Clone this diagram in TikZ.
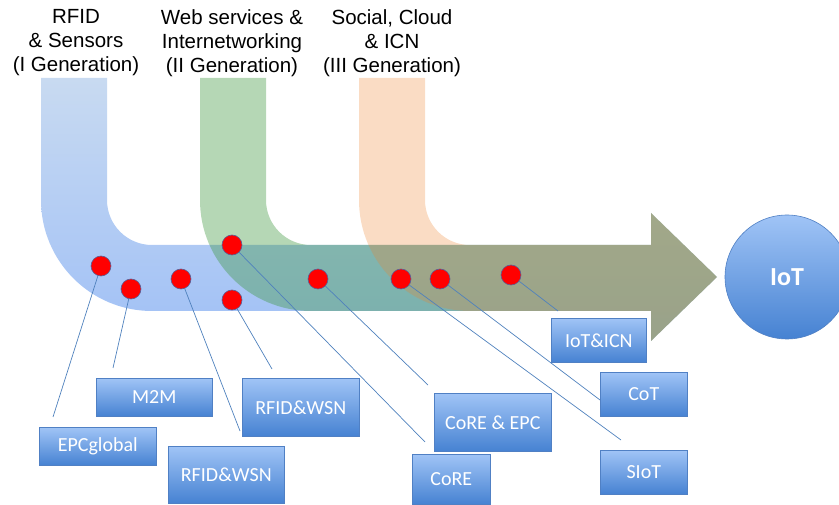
\documentclass[tikz,border=0pt]{standalone}
\usepackage{fontspec}
\setmainfont{Liberation Sans}
\newfontfamily\calibri{Carlito}
\usetikzlibrary{calc}
\definecolor{bandtop}{RGB}{200,218,241}
\definecolor{bandbot}{RGB}{160,192,246}
\definecolor{bandgreen}{RGB}{60,150,60}
\definecolor{bandorange}{RGB}{237,130,44}
\definecolor{boxtop}{RGB}{160,196,246}
\definecolor{boxbot}{RGB}{70,130,210}
\definecolor{boxedge}{RGB}{80,128,196}
\definecolor{linkblue}{RGB}{79,129,189}
\definecolor{dotedge}{RGB}{90,95,150}
\def\genband[#1](#2){\path[#1] (#2,78) -- (#2,200) arc (180:270:111pt) -- (651,311) -- (651,341) -- (717,277) -- (651,213) -- (651,245) -- ({#2+111},245) arc (270:180:45pt) -- ({#2+66},78) -- cycle;}
\tikzset{
	genlabel/.style={align=center, anchor=north, inner sep=0pt, font=\fontsize{20.5}{24}\selectfont},
	reddot/.style={circle, fill=red, draw=dotedge, line width=0.6pt, minimum size=20pt, inner sep=0pt},
	tagbox/.style={rectangle, draw=boxedge, line width=0.6pt, top color=boxtop, bottom color=boxbot, text=white, inner sep=0pt, anchor=north west, font=\calibri\fontsize{20}{24}\selectfont},
	link/.style={draw=linkblue, line width=0.7pt}
}

\begin{document}
\begin{tikzpicture}[x=1pt, y=-1pt]
			%%%%% START %%%%%
			\useasboundingbox (0,0) rectangle (839,505);
			
			\node[genlabel] (gen1) at (76, 9.5) {RFID\\\& Sensors\\(I Generation)};
			\node[genlabel] (gen2) at (232, 9.5) {Web services \&\\Internetworking\\(II Generation)};
			\node[genlabel] (gen3) at (392, 9.5) {Social, Cloud\\\& ICN\\(III Generation)};
			
			\genband[top color=bandtop, bottom color=bandbot](41)
			\genband[fill=bandgreen, fill opacity=0.38](200)
			\genband[fill=bandorange, fill opacity=0.28](359)
			
			\coordinate (epc-end) at (53, 417);
			\coordinate (m2m-end) at (113, 368);
			\coordinate (rfidlow-end) at (240, 431);
			\coordinate (rfidup-end) at (272, 369);
			\coordinate (core-end) at (425, 442);
			\coordinate (coreepc-end) at (428, 385);
			\coordinate (siot-end) at (621, 440);
			\coordinate (cot-end) at (600, 400);
			\coordinate (iocn-end) at (558, 311);
			
			\node[reddot] (d1) at (101, 266) {};
			\node[reddot] (d2) at (131, 289) {};
			\node[reddot] (d3) at (181, 279) {};
			\node[reddot] (d4) at (232, 300) {};
			\node[reddot] (d5) at (232, 245) {};
			\node[reddot] (d6) at (318, 279) {};
			\node[reddot] (d7) at (401, 279) {};
			\node[reddot] (d8) at (440, 279) {};
			\node[reddot] (d9) at (511, 275) {};
			
			\draw[link] (d1) -- (epc-end);
			\draw[link] (d2) -- (m2m-end);
			\draw[link] (d3) -- (rfidlow-end);
			\draw[link] (d4) -- (rfidup-end);
			\draw[link] (d5) -- (core-end);
			\draw[link] (d6) -- (coreepc-end);
			\draw[link] (d7) -- (siot-end);
			\draw[link] (d8) -- (cot-end);
			\draw[link] (d9) -- (iocn-end);
			
			\node[tagbox, minimum width=117pt, minimum height=38pt] (epcglobal) at (39, 427) {EPCglobal};
			\node[tagbox, minimum width=116pt, minimum height=38pt] (m2m) at (96, 378) {M2M};
			\node[tagbox, minimum width=116pt, minimum height=57pt] (rfidlow) at (168, 446) {RFID\&WSN};
			\node[tagbox, minimum width=117pt, minimum height=58pt] (rfidup) at (242, 378) {RFID\&WSN};
			\node[tagbox, minimum width=117pt, minimum height=58pt] (coreepc) at (434, 393) {CoRE \& EPC};
			\node[tagbox, minimum width=78pt, minimum height=50pt] (core) at (412, 454) {CoRE};
			\node[tagbox, minimum width=95pt, minimum height=44pt] (iocn) at (551, 318) {IoT\&ICN};
			\node[tagbox, minimum width=87pt, minimum height=44pt] (cot) at (600, 372) {CoT};
			\node[tagbox, minimum width=87pt, minimum height=44pt] (siot) at (600, 450) {SIoT};
			
			\node[circle, draw=boxedge, line width=0.6pt, top color=boxtop, bottom color=boxbot, minimum size=124pt, inner sep=0pt, text=white, font=\calibri\bfseries\fontsize{26}{30}\selectfont] (iot) at (787, 277) {IoT};
			%%%%% END %%%%%
\end{tikzpicture}
\end{document}
